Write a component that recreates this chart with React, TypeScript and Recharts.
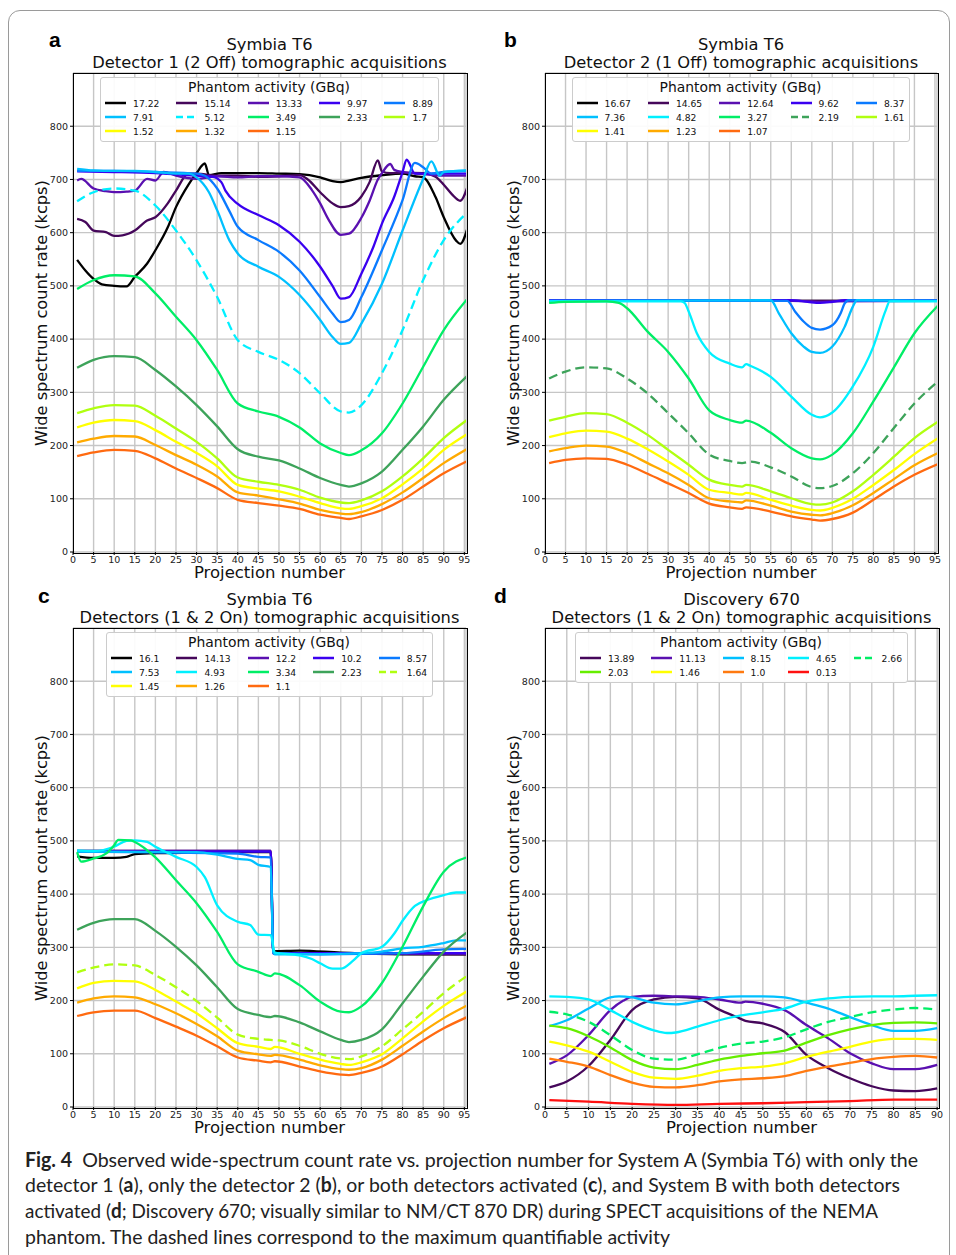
import React from 'react'
import { LineChart, Line, XAxis, YAxis, CartesianGrid } from 'recharts'

type Pt = [number, number]

interface Series {
  name: string
  color: string
  dashed?: boolean
  data: Pt[]
}

// colours (matplotlib-like palette from the figure)
const BLACK = '#000000'
const DPURPLE = '#45075a'
const PURPLE = '#5a10b0'
const BVIOLET = '#3a00f0'
const DBLUE = '#0a7aff'
const SKY = '#00c0ff'
const CYAN = '#00f0ff'
const SPRING = '#00ee66'
const SEA = '#3da35a'
const YGREEN = '#b0ff10'
const YELLOW = '#ffff00'
const ORANGE = '#ffaa00'
const DORANGE = '#ff6a10'

const yTicks = [0, 100, 200, 300, 400, 500, 600, 700, 800]
const xTicks96 = [0, 5, 10, 15, 20, 25, 30, 35, 40, 45, 50, 55, 60, 65, 70, 75, 80, 85, 90, 95]
const xTicks90 = [0, 5, 10, 15, 20, 25, 30, 35, 40, 45, 50, 55, 60, 65, 70, 75, 80, 85, 90]

// ---- panel a: Detector 1 (2 Off) ----
const a_17_22: Pt[] = [[1,549],[3,529],[5,513],[7,503],[10,500],[13,499],[15,517],[18,542],[20,567],[23,610],[25,648],[28,690],[30,712],[32,730],[33,708],[36,712],[40,712],[45,712],[50,711],[55,710],[60,704],[63,697],[65,695],[67,698],[70,703],[75,708],[80,711],[83,706],[85,704],[88,667],[90,629],[93,585],[94,579],[96,615]]
const a_15_14: Pt[] = [[1,626],[3,620],[5,604],[8,601],[10,594],[12,595],[15,604],[18,623],[20,629],[23,655],[25,679],[28,711],[30,711],[35,707],[40,707],[45,705],[50,706],[55,708],[57,700],[60,676],[63,655],[65,648],[67,650],[70,668],[72,695],[74,736],[75,715],[77,712],[80,713],[85,712],[88,705],[90,690],[92,672],[94,660],[96,692]]
const a_13_33: Pt[] = [[1,698],[2,701],[5,683],[8,678],[10,676],[13,677],[15,679],[18,701],[20,698],[22,714],[25,707],[30,701],[35,706],[40,704],[45,706],[50,706],[55,704],[58,680],[60,655],[62,625],[65,596],[67,598],[70,628],[72,660],[74,700],[75,712],[77,729],[78,718],[80,714],[85,710],[90,707],[96,707]]
const a_9_97: Pt[] = [[1,715],[10,714],[20,712],[30,707],[34,705],[36,695],[37,679],[40,654],[45,633],[50,614],[55,583],[60,536],[63,500],[65,476],[67,479],[70,523],[73,575],[75,617],[78,668],[80,714],[81,737],[83,711],[90,711],[96,711]]
const a_8_89: Pt[] = [[1,716],[10,716],[20,714],[30,711],[32,707],[35,683],[38,640],[40,611],[45,586],[50,564],[55,529],[60,479],[63,448],[65,432],[67,436],[70,479],[75,567],[80,661],[83,731],[85,723],[87,711],[90,714],[96,716]]
const a_7_91: Pt[] = [[1,720],[5,717],[10,716],[15,716],[20,714],[25,711],[28,711],[30,704],[33,676],[35,642],[38,585],[40,561],[45,536],[50,517],[55,483],[60,436],[63,404],[65,391],[67,393],[70,429],[75,504],[80,604],[85,701],[87,734],[89,707],[90,714],[96,717]]
const a_5_12: Pt[] = [[1,659],[5,676],[10,683],[15,679],[20,651],[25,604],[30,548],[35,479],[40,398],[45,376],[50,361],[55,336],[60,298],[65,264],[67,262],[70,276],[75,336],[80,417],[85,511],[90,586],[96,640]]
const a_3_49: Pt[] = [[1,494],[5,511],[10,520],[15,518],[20,486],[25,442],[30,398],[35,342],[40,279],[45,264],[50,254],[55,234],[60,204],[65,186],[67,182],[70,191],[75,223],[80,279],[85,348],[90,417],[96,478]]
const a_2_33: Pt[] = [[1,346],[5,361],[10,368],[15,366],[20,342],[25,311],[30,276],[35,236],[40,193],[45,179],[50,172],[55,157],[60,139],[65,126],[67,123],[70,129],[75,151],[80,192],[85,236],[90,286],[96,333]]
const a_1_7: Pt[] = [[1,261],[5,270],[10,276],[15,275],[20,256],[25,232],[30,207],[35,176],[40,140],[45,132],[50,126],[55,117],[60,102],[65,93],[67,92],[70,97],[75,114],[80,142],[85,176],[90,214],[96,250]]
const a_1_52: Pt[] = [[1,234],[5,243],[10,248],[15,246],[20,229],[25,207],[30,186],[35,161],[40,126],[45,119],[50,114],[55,104],[60,92],[65,82],[67,81],[70,86],[75,101],[80,127],[85,157],[90,192],[96,223]]
const a_1_32: Pt[] = [[1,206],[5,213],[10,218],[15,217],[20,201],[25,182],[30,164],[35,142],[40,112],[45,106],[50,99],[55,91],[60,79],[65,72],[67,71],[70,75],[75,90],[80,112],[85,139],[90,167],[96,195]]
const a_1_15: Pt[] = [[1,180],[5,187],[10,192],[15,190],[20,176],[25,157],[30,139],[35,120],[40,98],[45,92],[50,87],[55,81],[60,70],[65,64],[67,62],[70,67],[75,79],[80,98],[85,123],[90,148],[96,172]]

// ---- panel b: Detector 2 (1 Off) ----
const b_16_67: Pt[] = [[1,472],[30,473],[60,472],[96,472]]
const b_14_65: Pt[] = [[1,472],[50,472],[96,472]]
const b_12_64: Pt[] = [[1,472],[60,472],[65,471],[67,470],[70,471],[96,472]]
const b_9_62: Pt[] = [[1,473],[60,473],[64,470],[67,468],[70,470],[73,473],[96,473]]
const b_8_37: Pt[] = [[1,472],[59,472],[61,451],[63,433],[65,421],[67,418],[70,426],[72,448],[73,467],[74,473],[96,472]]
const b_7_36: Pt[] = [[1,472],[55,473],[57,448],[60,411],[63,386],[65,376],[67,374],[70,386],[73,423],[75,461],[76,473],[96,472]]
const b_4_82: Pt[] = [[1,471],[33,471],[34,468],[35,452],[37,411],[40,376],[45,354],[48,347],[49,353],[50,350],[55,329],[60,292],[65,258],[67,253],[70,262],[75,311],[80,386],[83,454],[84,471],[96,471]]
const b_3_27: Pt[] = [[1,468],[5,470],[15,471],[18,468],[20,458],[25,414],[30,376],[35,326],[40,266],[45,248],[48,243],[49,247],[55,224],[60,195],[65,176],[67,174],[70,183],[75,223],[80,283],[85,347],[90,411],[96,465]]
const b_2_19: Pt[] = [[1,326],[5,339],[10,347],[15,345],[20,326],[25,298],[30,261],[35,223],[40,183],[45,171],[48,167],[50,170],[55,159],[60,142],[65,122],[67,120],[70,124],[75,148],[80,186],[85,233],[90,279],[96,322]]
const b_1_61: Pt[] = [[1,247],[5,254],[10,261],[15,259],[20,243],[25,220],[30,192],[35,164],[40,136],[45,126],[48,123],[49,126],[55,114],[60,101],[65,90],[67,89],[70,93],[75,114],[80,145],[85,179],[90,214],[96,246]]
const b_1_41: Pt[] = [[1,216],[5,223],[10,228],[15,226],[20,213],[25,193],[30,170],[35,145],[40,117],[45,111],[48,108],[49,111],[55,98],[60,87],[65,79],[67,78],[70,83],[75,100],[80,126],[85,154],[90,184],[96,215]]
const b_1_23: Pt[] = [[1,189],[5,195],[10,200],[15,198],[20,186],[25,167],[30,148],[35,126],[40,101],[45,95],[48,93],[49,97],[55,87],[60,76],[65,70],[67,69],[70,73],[75,88],[80,111],[85,137],[90,163],[96,187]]
const b_1_07: Pt[] = [[1,167],[5,173],[10,176],[15,175],[20,164],[25,147],[30,129],[35,111],[40,91],[45,84],[48,81],[49,84],[55,76],[60,67],[65,61],[67,59],[70,62],[75,74],[80,98],[85,123],[90,145],[96,166]]

// ---- panel c: Detectors (1 & 2 On) ----
const c_16_1: Pt[] = [[1,471],[5,468],[10,468],[13,470],[15,475],[20,477],[30,478],[40,479],[48,479],[48.6,293],[55,294],[65,290],[80,287],[96,287]]
const c_14_13: Pt[] = [[1,481],[48,481],[48.6,289],[96,287]]
const c_12_2: Pt[] = [[1,481],[48,481],[48.6,288],[96,288]]
const c_10_2: Pt[] = [[1,480],[48,480],[48.6,289],[80,289],[96,289]]
const c_8_57: Pt[] = [[1,480],[40,476],[45,470],[48,469],[48.6,289],[60,287],[80,289],[90,296],[96,297]]
const c_7_53: Pt[] = [[1,480],[30,479],[35,474],[40,466],[43,464],[45,455],[48,451],[48.6,292],[49,287],[60,287],[70,289],[75,292],[80,298],[85,301],[90,308],[93,313],[96,313]]
const c_4_93: Pt[] = [[1,482],[5,481],[10,489],[13,500],[15,501],[18,498],[20,489],[25,470],[30,451],[32,432],[35,379],[40,348],[43,342],[45,324],[48,323],[49,290],[55,285],[58,278],[60,270],[63,260],[65,260],[68,275],[70,289],[75,301],[78,326],[80,350],[83,378],[86,389],[90,398],[93,403],[96,403]]
const c_3_34: Pt[] = [[1,479],[2,461],[5,467],[8,476],[10,492],[11,502],[14,501],[15,498],[20,469],[25,426],[30,383],[35,329],[40,268],[45,254],[48,246],[49,251],[55,229],[60,198],[65,179],[67,178],[70,189],[75,233],[80,301],[85,377],[90,442],[96,470]]
const c_2_23: Pt[] = [[1,333],[5,346],[10,353],[15,353],[20,331],[25,301],[30,266],[35,225],[40,184],[45,173],[48,169],[49,171],[55,159],[60,142],[65,126],[67,122],[70,126],[75,146],[80,195],[85,245],[90,292],[96,330]]
const c_1_64: Pt[] = [[1,253],[5,262],[10,268],[15,266],[20,248],[25,225],[30,199],[35,168],[40,136],[45,128],[48,126],[50,125],[55,115],[60,100],[65,91],[67,90],[70,95],[75,114],[80,146],[85,179],[90,214],[96,248]]
const c_1_45: Pt[] = [[1,223],[5,233],[10,237],[15,236],[20,220],[25,198],[30,176],[35,148],[40,120],[45,113],[48,109],[49,113],[55,100],[60,89],[65,81],[67,79],[70,84],[75,99],[80,129],[85,161],[90,190],[96,219]]
const c_1_26: Pt[] = [[1,196],[5,204],[10,208],[15,206],[20,193],[25,176],[30,156],[35,133],[40,106],[45,99],[48,96],[49,98],[55,89],[60,78],[65,71],[67,70],[70,73],[75,89],[80,115],[85,142],[90,167],[96,192]]
const c_1_1: Pt[] = [[1,171],[5,178],[10,181],[15,181],[20,167],[25,151],[30,134],[35,114],[40,93],[45,87],[48,84],[49,86],[55,76],[60,67],[65,61],[67,60],[70,64],[75,76],[80,99],[85,125],[90,148],[96,170]]

// ---- panel d: Discovery 670 ----
const d_13_89: Pt[] = [[1,37],[5,48],[10,77],[15,126],[20,182],[25,202],[30,207],[35,204],[40,183],[44,169],[46,162],[50,157],[55,141],[60,98],[65,73],[70,54],[75,39],[80,31],[85,30],[90,35]]
const d_11_13: Pt[] = [[1,81],[5,97],[10,135],[15,182],[18,200],[20,207],[25,209],[30,208],[35,207],[40,202],[45,196],[46,198],[50,194],[55,182],[60,154],[65,129],[70,101],[75,82],[80,71],[85,71],[90,79]]
const d_8_15: Pt[] = [[1,152],[5,163],[10,185],[15,206],[17,208],[20,206],[25,196],[30,193],[35,199],[40,206],[45,208],[50,208],[55,206],[60,196],[65,185],[70,169],[75,154],[80,143],[85,143],[90,148]]
const d_4_65: Pt[] = [[1,208],[5,207],[10,202],[15,182],[20,160],[25,144],[28,139],[30,140],[35,151],[40,163],[45,172],[50,178],[55,185],[60,198],[65,204],[70,207],[75,208],[80,208],[85,209],[90,210]]
const d_2_66: Pt[] = [[1,179],[5,174],[10,160],[15,135],[20,107],[25,91],[30,89],[35,99],[40,111],[45,119],[50,123],[55,131],[60,146],[65,160],[70,169],[75,178],[80,183],[85,186],[90,183]]
const d_2_03: Pt[] = [[1,153],[5,148],[10,133],[15,112],[20,88],[25,74],[30,71],[35,79],[40,89],[45,96],[50,101],[55,106],[60,121],[65,135],[70,146],[75,154],[80,158],[85,159],[90,157]]
const d_1_46: Pt[] = [[1,123],[5,116],[10,104],[15,85],[20,66],[25,55],[30,53],[35,59],[40,68],[45,73],[50,76],[55,82],[60,94],[65,104],[70,113],[75,123],[80,128],[85,128],[90,126]]
const d_1_0: Pt[] = [[1,91],[5,85],[10,76],[15,60],[20,46],[25,38],[30,37],[35,41],[40,48],[45,52],[50,54],[55,58],[60,68],[65,76],[70,83],[75,90],[80,94],[85,96],[90,93]]
const d_0_13: Pt[] = [[1,13],[10,10],[20,6],[30,4],[40,6],[50,7],[60,9],[70,11],[80,14],[90,14]]

const seriesA: Series[] = [
  { name: '17.22', color: BLACK, data: a_17_22 },
  { name: '15.14', color: DPURPLE, data: a_15_14 },
  { name: '13.33', color: PURPLE, data: a_13_33 },
  { name: '9.97', color: BVIOLET, data: a_9_97 },
  { name: '8.89', color: DBLUE, data: a_8_89 },
  { name: '7.91', color: SKY, data: a_7_91 },
  { name: '5.12', color: CYAN, dashed: true, data: a_5_12 },
  { name: '3.49', color: SPRING, data: a_3_49 },
  { name: '2.33', color: SEA, data: a_2_33 },
  { name: '1.7', color: YGREEN, data: a_1_7 },
  { name: '1.52', color: YELLOW, data: a_1_52 },
  { name: '1.32', color: ORANGE, data: a_1_32 },
  { name: '1.15', color: DORANGE, data: a_1_15 },
]

const seriesB: Series[] = [
  { name: '16.67', color: BLACK, data: b_16_67 },
  { name: '14.65', color: DPURPLE, data: b_14_65 },
  { name: '12.64', color: PURPLE, data: b_12_64 },
  { name: '9.62', color: BVIOLET, data: b_9_62 },
  { name: '8.37', color: DBLUE, data: b_8_37 },
  { name: '7.36', color: SKY, data: b_7_36 },
  { name: '4.82', color: CYAN, data: b_4_82 },
  { name: '3.27', color: SPRING, data: b_3_27 },
  { name: '2.19', color: SEA, dashed: true, data: b_2_19 },
  { name: '1.61', color: YGREEN, data: b_1_61 },
  { name: '1.41', color: YELLOW, data: b_1_41 },
  { name: '1.23', color: ORANGE, data: b_1_23 },
  { name: '1.07', color: DORANGE, data: b_1_07 },
]

const seriesC: Series[] = [
  { name: '16.1', color: BLACK, data: c_16_1 },
  { name: '14.13', color: DPURPLE, data: c_14_13 },
  { name: '12.2', color: PURPLE, data: c_12_2 },
  { name: '10.2', color: BVIOLET, data: c_10_2 },
  { name: '8.57', color: DBLUE, data: c_8_57 },
  { name: '7.53', color: SKY, data: c_7_53 },
  { name: '4.93', color: CYAN, data: c_4_93 },
  { name: '3.34', color: SPRING, data: c_3_34 },
  { name: '2.23', color: SEA, data: c_2_23 },
  { name: '1.64', color: YGREEN, dashed: true, data: c_1_64 },
  { name: '1.45', color: YELLOW, data: c_1_45 },
  { name: '1.26', color: ORANGE, data: c_1_26 },
  { name: '1.1', color: DORANGE, data: c_1_1 },
]

const seriesD: Series[] = [
  { name: '13.89', color: DPURPLE, data: d_13_89 },
  { name: '11.13', color: PURPLE, data: d_11_13 },
  { name: '8.15', color: SKY, data: d_8_15 },
  { name: '4.65', color: CYAN, data: d_4_65 },
  { name: '2.66', color: SPRING, dashed: true, data: d_2_66 },
  { name: '2.03', color: '#66ee00', data: d_2_03 },
  { name: '1.46', color: YELLOW, data: d_1_46 },
  { name: '1.0', color: '#ff7a10', data: d_1_0 },
  { name: '0.13', color: '#ff1010', data: d_0_13 },
]

const captionLines = [
  'Observed wide-spectrum count rate vs. projection number for System A (Symbia T6) with only the',
  'detector 1 (a), only the detector 2 (b), or both detectors activated (c), and System B with both detectors',
  'activated (d; Discovery 670; visually similar to NM/CT 870 DR) during SPECT acquisitions of the NEMA',
  'phantom. The dashed lines correspond to the maximum quantifiable activity',
]

const MPL = "'DejaVu Sans', Verdana, sans-serif"

interface PanelProps {
  left: number
  top: number
  w: number
  h: number
  xMax: number
  xTicks: number[]
  title: [string, string]
  letter: string
  letterAt: [number, number]
  series: Series[]
}

function LegendBox({ series }: { series: Series[] }) {
  return (
    <div
      style={{
        background: 'rgba(255,255,255,0.92)',
        border: '1px solid #cccccc',
        borderRadius: 3,
        padding: '1px 5px 3px 4px',
        fontFamily: MPL,
        color: '#111',
      }}
    >
      <div style={{ textAlign: 'center', fontSize: 13.9, lineHeight: '17px' }}>Phantom activity (GBq)</div>
      <div style={{ display: 'grid', gridTemplateColumns: 'repeat(5, auto)', columnGap: 17 }}>
        {series.map((s) => (
          <div key={s.name} style={{ display: 'flex', alignItems: 'center', height: 14, fontSize: 9.2 }}>
            <svg width={21} height={6} style={{ marginRight: 7 }}>
              <line
                x1={0}
                y1={3}
                x2={21}
                y2={3}
                stroke={s.color}
                strokeWidth={2.5}
                strokeDasharray={s.dashed ? '7 4' : undefined}
              />
            </svg>
            <span>{s.name}</span>
          </div>
        ))}
      </div>
    </div>
  )
}

function Panel({ left, top, w, h, xMax, xTicks, title, letter, letterAt, series }: PanelProps) {
  const yw = 47
  const mr = 12
  return (
    <>
      {/* panel letter */}
      <div
        style={{
          position: 'absolute',
          left: letterAt[0] - 6,
          top: letterAt[1] - 13,
          fontFamily: "'Liberation Sans', Arial, sans-serif",
          fontWeight: 'bold',
          fontSize: 21,
          lineHeight: '24px',
        }}
      >
        {letter}
      </div>
      {/* title */}
      <div
        style={{
          position: 'absolute',
          left: left - 60,
          width: w + 120,
          top: top - 37,
          textAlign: 'center',
          fontFamily: MPL,
          fontSize: 16.3,
          lineHeight: '18px',
          color: '#111',
        }}
      >
        <div>{title[0]}</div>
        <div>{title[1]}</div>
      </div>
      <div style={{ position: 'absolute', left: left - yw - 3, top: top - 2 }}>
        <LineChart width={w + yw + 3 + mr} height={h + 2 + 22} margin={{ top: 2, right: mr, bottom: 0, left: 3 }}>
          <CartesianGrid stroke="#c6c6c6" strokeWidth={1.4} />
          <XAxis
            dataKey="p"
            type="number"
            domain={[0, xMax]}
            ticks={xTicks}
            allowDataOverflow
            interval={0}
            height={22}
            axisLine={false}
            tickSize={3}
            tickMargin={1}
            tickLine={{ stroke: '#000' }}
            tick={{ fontSize: 9.5, fill: '#222', fontFamily: MPL }}
          />
          <YAxis
            type="number"
            domain={[0, 900]}
            ticks={yTicks}
            allowDataOverflow
            interval={0}
            width={yw}
            axisLine={false}
            tickSize={3}
            tickMargin={2}
            tickLine={{ stroke: '#000' }}
            tick={{ fontSize: 9.5, fill: '#222', fontFamily: MPL }}
          />
          {series.map((s) => (
            <Line
              key={s.name}
              data={s.data.map(([p, v]) => ({ p, v }))}
              dataKey="v"
              type="monotone"
              stroke={s.color}
              strokeWidth={2.3}
              strokeDasharray={s.dashed ? '9 5' : undefined}
              dot={false}
              activeDot={false}
              isAnimationActive={false}
            />
          ))}
        </LineChart>
      </div>
      {/* axes frame */}
      <div
        style={{
          position: 'absolute',
          left: left - 0.5,
          top: top - 0.5,
          width: w,
          height: h,
          border: '1px solid #000',
          pointerEvents: 'none',
        }}
      />
      {/* legend */}
      <div
        style={{
          position: 'absolute',
          left,
          width: w,
          top: top + 4,
          display: 'flex',
          justifyContent: 'center',
        }}
      >
        <LegendBox series={series} />
      </div>
      {/* y label */}
      <div
        style={{
          position: 'absolute',
          left: left - 31 - 150,
          top: top + h / 2 - 10,
          width: 300,
          height: 20,
          lineHeight: '20px',
          textAlign: 'center',
          transform: 'rotate(-90deg)',
          fontFamily: MPL,
          fontSize: 16.2,
          color: '#111',
        }}
      >
        Wide spectrum count rate (kcps)
      </div>
      {/* x label */}
      <div
        style={{
          position: 'absolute',
          left,
          width: w,
          top: top + h + 11,
          textAlign: 'center',
          fontFamily: MPL,
          fontSize: 16.5,
          lineHeight: '20px',
          color: '#111',
        }}
      >
        Projection number
      </div>
    </>
  )
}

function Caption() {
  const font = "Lato, 'Open Sans', sans-serif"
  const bold = (t: string) => <tspan fontWeight="bold">{t}</tspan>
  return (
    <svg width={956} height={110} style={{ position: 'absolute', left: 0, top: 1145 }}>
      <g fontFamily={font} fontSize={20} fill="#222">
        <text x={25} y={22} textLength={893} lengthAdjust="spacingAndGlyphs">
          {bold('Fig. 4')}{'\u00a0 ' + captionLines[0]}
        </text>
        <text x={25} y={47} textLength={875} lengthAdjust="spacingAndGlyphs">
          detector 1 ({bold('a')}), only the detector 2 ({bold('b')}), or both detectors activated ({bold('c')}), and System B with both detectors
        </text>
        <text x={25} y={73} textLength={853} lengthAdjust="spacingAndGlyphs">
          activated ({bold('d')}; Discovery 670; visually similar to NM/CT 870 DR) during SPECT acquisitions of the NEMA
        </text>
        <text x={25} y={99} textLength={645} lengthAdjust="spacingAndGlyphs">
          {captionLines[3]}
        </text>
      </g>
    </svg>
  )
}

export default function App() {
  return (
    <div style={{ position: 'absolute', left: 0, top: 0, width: 956, height: 1255, background: '#fff', overflow: 'hidden' }}>
      <div
        style={{
          position: 'absolute',
          left: 8,
          top: 10,
          width: 940,
          height: 1280,
          border: '1px solid #9a9a9a',
          borderRadius: 12,
        }}
      />
      <Panel left={73} top={73} w={393} h={479} xMax={95.4} xTicks={xTicks96} letter="a" letterAt={[55, 41]}
        title={['Symbia T6', 'Detector 1 (2 Off) tomographic acquisitions']} series={seriesA} />
      <Panel left={545} top={73} w={392} h={479} xMax={95.5} xTicks={xTicks96} letter="b" letterAt={[510, 41]}
        title={['Symbia T6', 'Detector 2 (1 Off) tomographic acquisitions']} series={seriesB} />
      <Panel left={73} top={628} w={393} h={479} xMax={95.4} xTicks={xTicks96} letter="c" letterAt={[44, 597]}
        title={['Symbia T6', 'Detectors (1 & 2 On) tomographic acquisitions']} series={seriesC} />
      <Panel left={545} top={628} w={393} h={479} xMax={90.2} xTicks={xTicks90} letter="d" letterAt={[500, 597]}
        title={['Discovery 670', 'Detectors (1 & 2 On) tomographic acquisitions']} series={seriesD} />
      <Caption />
    </div>
  )
}
